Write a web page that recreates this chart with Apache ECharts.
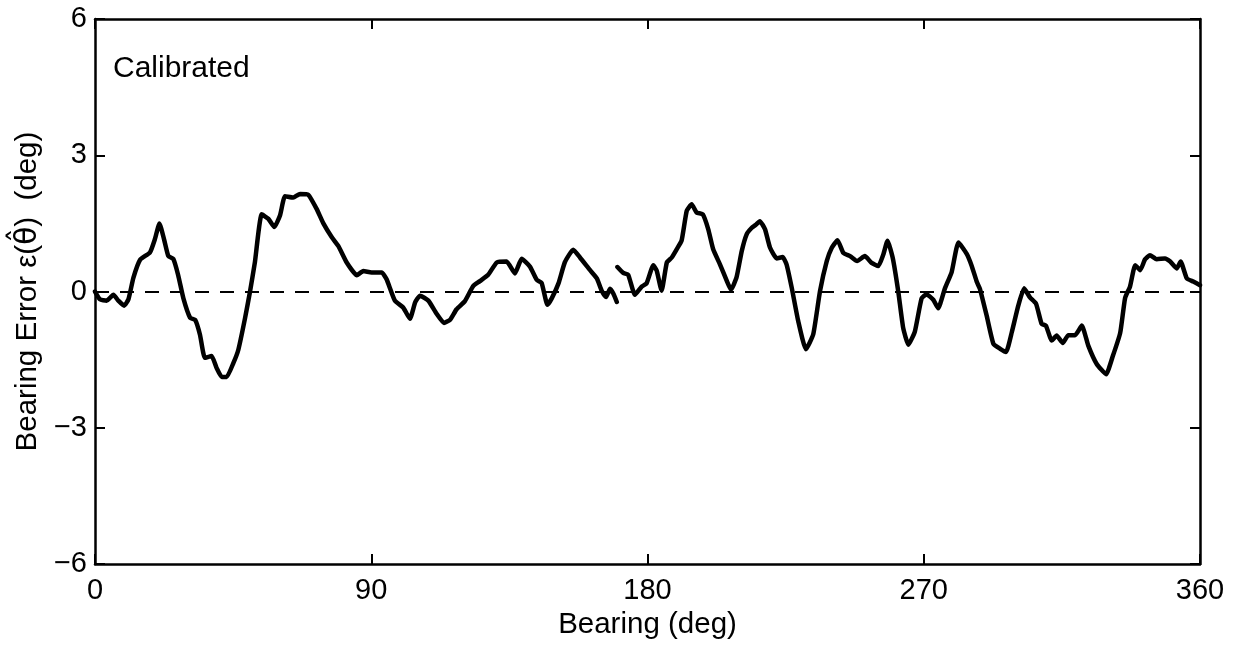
<!DOCTYPE html>
<html>
<head>
<meta charset="utf-8">
<script src="https://cdn.jsdelivr.net/npm/echarts@6/dist/echarts.min.js"></script>
<style>
html,body{margin:0;padding:0;background:#fff;}
#chart{width:1236px;height:645px;}
</style>
</head>
<body>
<div id="chart"></div>
<script>
// ---- data ----
const xTicks = [0, 90, 180, 270, 360];
const yTicks = [-6, -3, 0, 3, 6];

// segment 1 (0 .. ~170 deg)
const bearing1 = [0, 1.6, 3.8, 6, 7.6, 9.5, 10.9, 12.5, 14.7, 17.9, 19.5, 21, 22.5, 23.9, 25.5, 27.1, 28.8, 31, 32.6, 34.2,
  35.8, 38, 39.6, 41.3, 42.9, 45.1, 46.7, 48.9, 50.5, 52.1, 54.3, 56.5, 58.4, 60.3, 61.9, 64.6, 66.8, 69.5, 72.2, 74.4,
  77.1, 79.3, 82, 85.3, 87.4, 90.1, 93.4, 95, 97.7, 100.4, 102.6, 104.3, 105.9, 108.6, 111.3, 113.7, 115.7, 117.8, 120.5, 123.2,
  125.4, 128.1, 130.9, 134.1, 136.8, 139, 141.7, 143.9, 145.5, 147.4, 148.8, 151, 153.1, 155.8, 158, 161.3, 163.5, 165, 166.5, 167.8,
  168.9, 170.0];
const error1 = [0, -0.17, -0.2, -0.07, -0.2, -0.31, -0.17, 0.3, 0.7, 0.86, 1.15, 1.5, 1.15, 0.78, 0.72, 0.36, -0.15, -0.58, -0.62, -0.95,
  -1.46, -1.42, -1.68, -1.88, -1.88, -1.57, -1.28, -0.58, 0, 0.65, 1.7, 1.6, 1.42, 1.68, 2.1, 2.07, 2.15, 2.13, 1.82, 1.5,
  1.2, 1.0, 0.64, 0.36, 0.45, 0.42, 0.42, 0.27, -0.2, -0.35, -0.6, -0.24, -0.09, -0.2, -0.49, -0.69, -0.62, -0.39, -0.21, 0.12,
  0.23, 0.37, 0.64, 0.66, 0.4, 0.72, 0.55, 0.26, 0.19, -0.29, -0.15, 0.18, 0.65, 0.92, 0.75, 0.47, 0.29, 0.03, -0.12, 0.06,
  -0.05, -0.23];

// segment 2 (~170 .. 360 deg)
const bearing2 = [170.2, 172.1, 173.7, 175.9, 178.1, 179.7, 181.9, 183, 184.6, 186.3, 187.9, 189.5, 191.1, 192.8, 194.4, 196, 198, 199.8, 201.4, 203.6,
  205.8, 207.2, 209, 210.7, 212.3, 213.9, 215.3, 216.6, 218.3, 219.9, 222.1, 224, 225.3, 227, 229.1, 231.6, 234, 236.2, 238.4, 240,
  241.9, 243.8, 246, 248.3, 250.8, 253, 255.2, 256.8, 258.2, 259.9, 261.7, 263.3, 265, 267.1, 269.3, 270.9, 273.1, 274.7, 276.9, 279.1,
  281.3, 284, 285.6, 287.3, 288.3, 290.5, 292.7, 294.9, 296.8, 298.7, 300.8, 302.7, 304.6, 306.6, 308.4, 309.8, 311.7, 313.3, 315.3, 317.1,
  319.3, 321.5, 323.6, 326.4, 329.4, 331.6, 334, 335.6, 337.2, 338.9, 340.5, 342.1, 343.7, 345.9, 348.6, 350.3, 352.4, 353.7, 355.7, 357.8,
  360];
const error2 = [0.54, 0.41, 0.37, -0.07, 0.11, 0.18, 0.58, 0.46, 0.02, 0.64, 0.75, 0.93, 1.12, 1.78, 1.92, 1.74, 1.7, 1.37, 0.93, 0.6,
  0.24, 0.04, 0.31, 0.89, 1.26, 1.4, 1.47, 1.55, 1.37, 0.97, 0.73, 0.76, 0.6, 0.08, -0.65, -1.27, -0.94, 0.01, 0.67, 0.96,
  1.13, 0.85, 0.78, 0.67, 0.78, 0.63, 0.56, 0.81, 1.12, 0.74, 0.0, -0.8, -1.17, -0.88, -0.15, -0.06, -0.18, -0.37, 0.07, 0.43,
  1.08, 0.83, 0.57, 0.21, 0.06, -0.53, -1.15, -1.26, -1.33, -0.89, -0.31, 0.07, -0.13, -0.27, -0.71, -0.75, -1.08, -0.97, -1.13, -0.96,
  -0.96, -0.75, -1.19, -1.6, -1.82, -1.42, -0.91, -0.14, 0.11, 0.58, 0.47, 0.71, 0.8, 0.71, 0.73, 0.66, 0.51, 0.66, 0.29, 0.22,
  0.14];

const panelLabel = 'Calibrated';
const xTitle = 'Bearing (deg)';
const yTitleA = 'Bearing Error \u03b5(';
const yTitleB = '\u03b8\u0302';
const yTitleC = ')  (deg)';

// ---- chart ----
const FONT = '"Liberation Sans", Arial, Helvetica, sans-serif';
const pairs = (xs, ys) => xs.map((x, i) => [x, ys[i]]);

const axisCommon = {
  type: 'value',
  axisLine: { show: true, onZero: false, lineStyle: { color: '#000', width: 2.5 } },
  axisTick: { show: true, inside: true, length: 10, lineStyle: { color: '#000', width: 2 } },
  splitLine: { show: false }
};

const chart = echarts.init(document.getElementById('chart'), null, { renderer: 'canvas' });
chart.setOption({
  backgroundColor: '#fff',
  animation: false,
  textStyle: { fontFamily: FONT },
  title: {
    text: panelLabel, left: 108, top: 49,
    textStyle: { fontFamily: FONT, fontSize: 30, fontWeight: 'normal', color: '#000' }
  },
  grid: { left: 95, right: 36, top: 19, bottom: 79, containLabel: false },
  xAxis: [
    Object.assign({}, axisCommon, {
      position: 'bottom', min: xTicks[0], max: xTicks[xTicks.length - 1], interval: 90,
      axisLabel: { show: true, margin: 12, color: '#000', fontSize: 29, fontFamily: FONT },
      name: xTitle, nameLocation: 'middle', nameGap: 43,
      nameTextStyle: { color: '#000', fontSize: 29.5, fontFamily: FONT }
    }),
    Object.assign({}, axisCommon, {
      position: 'top', min: xTicks[0], max: xTicks[xTicks.length - 1], interval: 90,
      axisLabel: { show: false }
    })
  ],
  yAxis: [
    Object.assign({}, axisCommon, {
      position: 'left', min: yTicks[0], max: yTicks[yTicks.length - 1], interval: 3,
      axisLabel: {
        show: true, margin: 8, color: '#000', fontSize: 29, fontFamily: FONT,
        formatter: v => String(v).replace('-', '\u2212')
      },
      name: '{a|' + yTitleA + '}{b|' + yTitleB + '}{a|' + yTitleC + '}',
      nameLocation: 'middle', nameGap: 44, nameRotate: 90,
      nameTextStyle: {
        color: '#000', fontSize: 29.5, fontFamily: FONT,
        rich: {
          a: { color: '#000', fontSize: 29.5, fontFamily: FONT },
          b: { color: '#000', fontSize: 29.5, fontFamily: '"DejaVu Sans", sans-serif' }
        }
      }
    }),
    Object.assign({}, axisCommon, {
      position: 'right', min: yTicks[0], max: yTicks[yTicks.length - 1], interval: 3,
      axisLabel: { show: false }
    })
  ],
  series: [
    {
      type: 'line', xAxisIndex: 0, yAxisIndex: 0,
      data: pairs(bearing1, error1),
      showSymbol: false, symbol: 'none', smooth: 0.15,
      lineStyle: { color: '#000', width: 4.5, join: 'round', cap: 'round' },
      markLine: {
        silent: true, symbol: ['none', 'none'], label: { show: false },
        lineStyle: { color: '#000', width: 2, type: [14, 11] },
        data: [{ yAxis: 0 }]
      },
      z: 3
    },
    {
      type: 'line', xAxisIndex: 0, yAxisIndex: 0,
      data: pairs(bearing2, error2),
      showSymbol: false, symbol: 'none', smooth: 0.15,
      lineStyle: { color: '#000', width: 4.5, join: 'round', cap: 'round' },
      z: 3
    }
  ]
});
</script>
</body>
</html>
